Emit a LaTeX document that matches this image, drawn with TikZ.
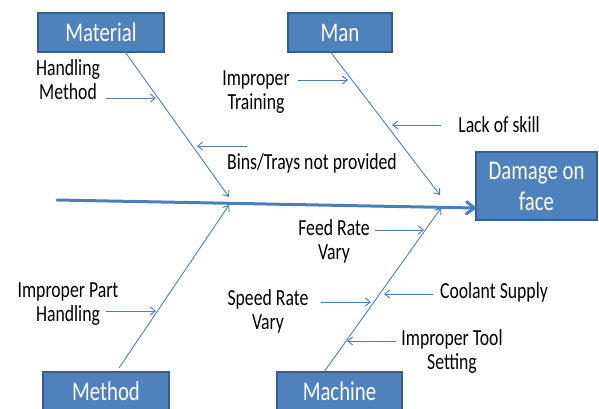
\documentclass[tikz,border=0pt]{standalone}
\usepackage{fontspec}
\setmainfont{Carlito}[FakeStretch=0.77]
\usetikzlibrary{arrows.meta}

\definecolor{boxblue}{HTML}{4F81BD}
\definecolor{boxline}{HTML}{385D8A}
\definecolor{boneblue}{HTML}{4A7EBB}

\tikzset{
  cause/.style={draw=boxline, fill=boxblue, line width=1.5pt, text=white,
    inner sep=0pt, minimum height=39pt, font=\fontsize{27}{31}\selectfont},
  reason/.style={align=center, inner sep=0pt, font=\fontsize{23}{24}\selectfont},
  bone/.style={draw=boneblue, line width=0.9pt, -{Straight Barb[length=5pt,width=8pt]}},
  spine/.style={draw=boneblue, line width=3pt, line cap=round,
    -{Straight Barb[length=8pt,width=12pt,round]}}
}

\begin{document}
\begin{tikzpicture}[x=1pt, y=-1pt]
    \clip (0,0) rectangle (599,408);
    % the effect and the four causes
    \node[cause, minimum width=121pt, minimum height=68pt, align=center] (dmg) at (536.5,186) {Damage on\\face};
    \node[cause, minimum width=126pt] (mat) at (101,32.5) {Material};
    \node[cause, minimum width=104pt] (man) at (340,32.5) {Man};
    \node[cause, minimum width=126pt] (meth) at (106,391.5) {Method};
    \node[cause, minimum width=125pt] (mach) at (339.5,391.5) {Machine};

    % main line
    \coordinate (tail) at (57,200);
    \coordinate (head) at (476,208);
    \draw[spine] (tail) -- (head);

    % bones
    \coordinate (matb) at (123,49);  \coordinate (mate) at (229,197);
    \coordinate (manb) at (329,50);  \coordinate (mane) at (440,195);
    \coordinate (methb) at (119,368); \coordinate (methe) at (229,205);
    \coordinate (machb) at (324,372); \coordinate (mache) at (441,208);
    \draw[bone] (matb) -- (mate);
    \draw[bone] (manb) -- (mane);
    \draw[bone] (methb) -- (methe);
    \draw[bone] (machb) -- (mache);

    % reasons
    \node[reason] (hand) at (68,80) {Handling\\Method};
    \node[reason] (train) at (256,92) {Improper\\Training};
    \node[reason] (bins) at (312,163) {Bins/Trays not provided};
    \node[reason] (skill) at (499,125) {Lack of skill};
    \node[reason] (part) at (68,304) {Improper Part\\Handling};
    \node[reason] (feed) at (334,241) {Feed Rate\\Vary};
    \node[reason] (speed) at (268,311) {Speed Rate\\Vary};
    \node[reason] (cool) at (494,292) {Coolant Supply};
    \node[reason] (tool) at (452,351) {Improper Tool\\Setting};

    \coordinate (hand1) at (106,98);  \coordinate (hand2) at (156,98);
    \coordinate (train1) at (298,80); \coordinate (train2) at (348,80);
    \coordinate (bins1) at (247,146); \coordinate (bins2) at (197,146);
    \coordinate (skill1) at (441,125); \coordinate (skill2) at (392,125);
    \coordinate (part1) at (106,311); \coordinate (part2) at (156,311);
    \coordinate (feed1) at (375,230); \coordinate (feed2) at (424,230);
    \coordinate (speed1) at (321,302); \coordinate (speed2) at (371,302);
    \coordinate (cool1) at (433,294); \coordinate (cool2) at (384,294);
    \coordinate (tool1) at (396,341); \coordinate (tool2) at (347,341);
    \foreach \r in {hand,train,bins,skill,part,feed,speed,cool,tool}
      \draw[bone] (\r1) -- (\r2);
\end{tikzpicture}
\end{document}
